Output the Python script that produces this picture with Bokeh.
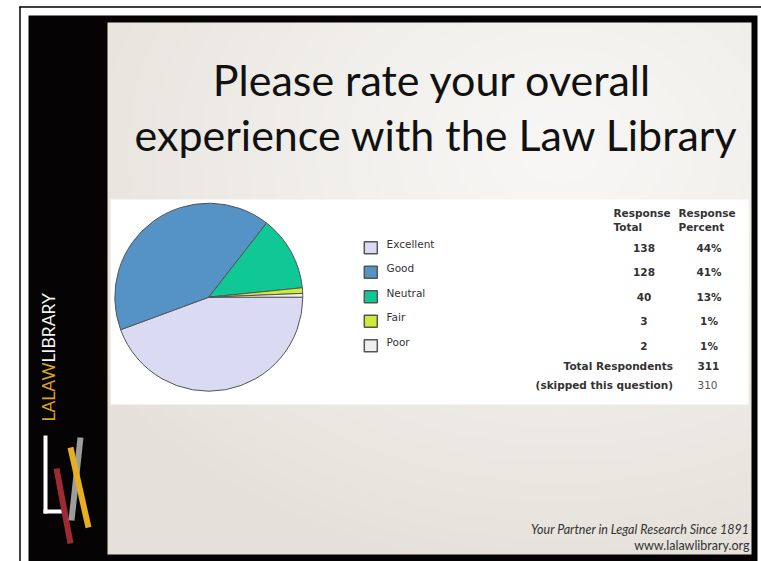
import numpy as np
from bokeh.plotting import figure
from bokeh.models import Range1d, ColumnDataSource
from bokeh.core.properties import value
from bokeh.embed import file_html
from bokeh.resources import INLINE

# ---------------- data ----------------
categories = ["Excellent", "Good", "Neutral", "Fair", "Poor"]
response_total = [138, 128, 40, 3, 2]
response_percent = ["44%", "41%", "13%", "1%", "1%"]
slice_colors = ["#DADAF2", "#5592C6", "#0FC895", "#CDEA3A", "#EEEEF1"]
total_respondents = 311
skipped = 310
title_lines = ["Please rate your overall", "experience with the Law Library"]
footer_lines = ["Your Partner in Legal Research Since 1891", "www.lalawlibrary.org"]

W, H = 761, 561
def X(sx):
    return sx
def Y(sy):
    return H - sy

# small correction: bokeh svg text sits a bit low
SM = 4.0     # for ~10-12px text
TL = 16.0    # for the title

p = figure(width=W, height=H, x_range=Range1d(0, W), y_range=Range1d(0, H),
           x_axis_type=None, y_axis_type=None, output_backend="svg",
           toolbar_location=None, min_border=0, outline_line_color=None,
           background_fill_color="white", border_fill_color="white")
p.grid.visible = False

# outer thin frame lines
p.segment(x0=[X(19.5), X(19)], y0=[Y(6), Y(6.5)], x1=[X(19.5), X(761)], y1=[Y(561), Y(6.5)],
          line_color="black", line_width=1.5)
# black slide frame
p.quad(left=X(28), right=X(757), top=Y(15), bottom=Y(561), fill_color="#050303", line_color=None)

# beige gradient slide area
gw, gh = 322, 266
left, right, top, bottom = 107, 751, 22, 554
xs = np.linspace(left, right, gw)
ys = np.linspace(bottom, top, gh)
gx, gy = np.meshgrid(xs, ys)
d = np.sqrt(((gx - 560) / 560.0) ** 2 + ((gy - 150) / 430.0) ** 2)
t = np.clip(d, 0, 1) ** 1.2
light = np.array([248, 247, 245])
dark = np.array([229, 225, 218])
img = np.empty((gh, gw), dtype=np.uint32)
view = img.view(dtype=np.uint8).reshape((gh, gw, 4))
for k in range(3):
    view[:, :, k] = (light[k] * (1 - t) + dark[k] * t).astype(np.uint8)
view[:, :, 3] = 255
p.image_rgba(image=[img], x=X(left), y=Y(bottom), dw=right - left, dh=bottom - top)

# white chart panel
p.quad(left=X(110), right=X(748), top=Y(199), bottom=Y(404), fill_color="white", line_color=None)

# ---------------- pie ----------------
vals = np.array(response_total, dtype=float)
cum = np.concatenate([[0], np.cumsum(vals)]) / vals.sum()
start = -cum[1:] * 2 * np.pi
end = -cum[:-1] * 2 * np.pi
pie_src = ColumnDataSource(dict(start=start, end=end, color=slice_colors, cat=categories))
p.wedge(x=X(208.3), y=Y(296.7), radius=94, start_angle="start", end_angle="end",
        fill_color="color", line_color="#555555", line_width=1, source=pie_src)

# ---------------- legend ----------------
n = len(categories)
row_step = 24.5
rows = np.arange(n)
leg_src = ColumnDataSource(dict(
    bx=[X(370.3)] * n, by=[Y(247.2 + i * row_step) for i in rows],
    tx=[X(386)] * n, ty=[Y(247 - SM + i * row_step) for i in rows],
    color=slice_colors, cat=categories))
p.rect(x="bx", y="by", width=13, height=12, fill_color="color", line_color="#555555",
       line_width=1.5, source=leg_src)
p.text(x="tx", y="ty", text="cat", text_font=value("DejaVu Sans"), text_font_size="10.5px",
       text_color="#333333", text_baseline="alphabetic", source=leg_src)

# ---------------- table ----------------
hdr_font = dict(text_font=value("DejaVu Sans"), text_font_size="10.5px", text_font_style="bold",
                text_color="#333333", text_baseline="alphabetic")
p.text(x=[X(613), X(678), X(613), X(678)],
       y=[Y(216 - SM), Y(216 - SM), Y(230 - SM), Y(230 - SM)],
       text=["Response", "Response", "Total", "Percent"], text_align="left", **hdr_font)
tab_src = ColumnDataSource(dict(
    x1=[X(643.5)] * n, x2=[X(708.5)] * n, y=[Y(251 - SM + i * row_step) for i in rows],
    tot=[str(v) for v in response_total], pct=response_percent))
p.text(x="x1", y="y", text="tot", text_align="center", source=tab_src, **hdr_font)
p.text(x="x2", y="y", text="pct", text_align="center", source=tab_src, **hdr_font)
p.text(x=[X(672.5)], y=[Y(369.5 - SM)], text=["Total Respondents"], text_align="right", **hdr_font)
p.text(x=[X(697)], y=[Y(369.5 - SM)], text=[str(total_respondents)], text_align="left", **hdr_font)
p.text(x=[X(672.5)], y=[Y(388 - SM)], text=["(skipped this question)"], text_align="right", **hdr_font)
p.text(x=[X(697)], y=[Y(388 - SM)], text=[str(skipped)], text_align="left",
       text_font=value("DejaVu Sans"), text_font_size="10.5px", text_color="#555555",
       text_baseline="alphabetic")

# ---------------- title ----------------
p.text(x=[X(432), X(436)], y=[Y(95 - TL), Y(150 - TL)], text=title_lines, text_align="center",
       text_baseline="alphabetic", text_font=value("Lato"), text_font_size="43px",
       text_color="#111111")

# ---------------- footer ----------------
p.text(x=[X(749)], y=[Y(533 - SM)], text=[footer_lines[0]], text_align="right",
       text_baseline="alphabetic", text_font=value("Lato"), text_font_size="12.5px",
       text_font_style="italic", text_color="#333333")
p.text(x=[X(749)], y=[Y(549 - SM)], text=[footer_lines[1]], text_align="right",
       text_baseline="alphabetic", text_font=value("Lato"), text_font_size="12.5px",
       text_color="#333333")

# ---------------- left brand strip ----------------
p.text(x=[X(48)], y=[Y(362)], text=["LALAW"], angle=np.pi / 2, text_align="right",
       text_baseline="alphabetic", text_font=value("Lato"), text_font_size="17.5px",
       text_color="#D8A51E")
p.text(x=[X(48)], y=[Y(362)], text=["LIBRARY"], angle=np.pi / 2, text_align="left",
       text_baseline="alphabetic", text_font=value("Lato"), text_font_size="17.5px",
       text_color="#F2F2F2")
# logo
p.quad(left=[X(43), X(43)], right=[X(47), X(62)], top=[Y(435), Y(509)], bottom=[Y(513), Y(513)],
       fill_color="white", line_color=None)
p.segment(x0=[X(56)], y0=[Y(468)], x1=[X(70)], y1=[Y(543)], line_color="#9E2A36", line_width=6)
p.segment(x0=[X(80)], y0=[Y(437)], x1=[X(71)], y1=[Y(520)], line_color="#9C9C9C", line_width=6)
p.segment(x0=[X(70)], y0=[Y(447)], x1=[X(88)], y1=[Y(527)], line_color="#E6AE22", line_width=6)

open("out.html", "w").write(file_html(p, INLINE))
